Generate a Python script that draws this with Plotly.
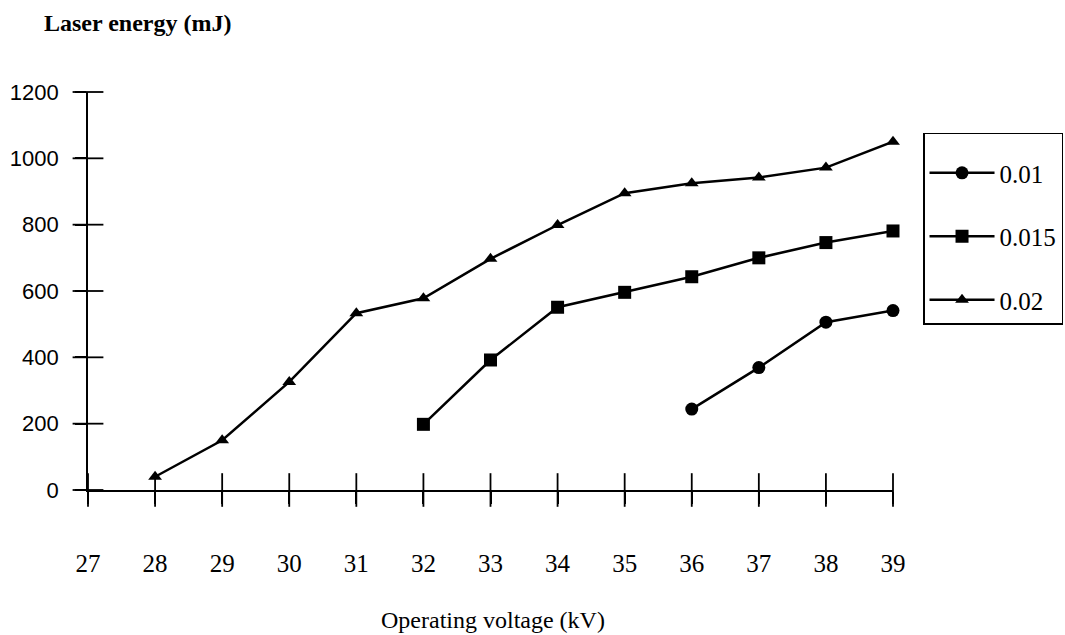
import plotly.graph_objects as go

x_vals = list(range(27, 40))
x_tick_labels = [str(v) for v in x_vals]
y_ticks = [0, 200, 400, 600, 800, 1000, 1200]

v_001 = [36, 37, 38, 39]
e_001 = [244, 369, 506, 541]

v_0015 = [32, 33, 34, 35, 36, 37, 38, 39]
e_0015 = [198, 392, 551, 596, 643, 700, 746, 781]

v_002 = [28, 29, 30, 31, 32, 33, 34, 35, 36, 37, 38, 39]
e_002 = [40, 150, 326, 533, 578, 697, 799, 895, 925, 942, 972, 1050]

serif = "Liberation Serif, Times New Roman, serif"
sans = "Liberation Sans, Arial, sans-serif"

fig = go.Figure()

# tick marks crossing the axes (drawn at the tick values on the axis lines)
fig.add_trace(go.Scatter(
    x=x_vals, y=[y_ticks[0]] * len(x_vals), mode="markers",
    marker=dict(symbol="line-ns", size=24, line=dict(color="black", width=1.8)),
    cliponaxis=False, showlegend=False, hoverinfo="skip"))
fig.add_trace(go.Scatter(
    x=[x_vals[0]] * len(y_ticks), y=y_ticks, mode="markers",
    marker=dict(symbol="line-ew", size=22, line=dict(color="black", width=1.8)),
    cliponaxis=False, showlegend=False, hoverinfo="skip"))

series = [
    ("0.01", v_001, e_001, "circle", 13),
    ("0.015", v_0015, e_0015, "square", 13),
    ("0.02", v_002, e_002, "triangle-up", 12),
]
for name, xs, ys, sym, sz in series:
    fig.add_trace(go.Scatter(
        x=xs, y=ys, name=name, mode="lines+markers",
        line=dict(color="black", width=2.5),
        marker=dict(symbol=sym, size=sz, color="black"),
        cliponaxis=False, legendgroup=name,
    ))

fig.update_layout(
    width=1065, height=635,
    paper_bgcolor="white", plot_bgcolor="white",
    margin=dict(l=88, r=172, t=92, b=145, autoexpand=False),
    showlegend=True,
    legend=dict(
        x=1.0373, y=0.897, xanchor="left", yanchor="top",
        bordercolor="black", borderwidth=1.5,
        font=dict(family=serif, size=25, color="black"),
        title=dict(text="&nbsp;", font=dict(family=serif, size=12)),
        traceorder="grouped", tracegroupgap=28,
        itemwidth=65,
    ),
    xaxis=dict(
        range=[27, 39], tickvals=x_vals, ticktext=x_tick_labels,
        showgrid=False, zeroline=False, showline=True, linecolor="black", linewidth=1.8,
        ticks="outside", ticklen=12, tickwidth=1.8, tickcolor="black",
        ticklabelstandoff=38,
        tickfont=dict(family=serif, size=25, color="black"),
        anchor="y",
    ),
    yaxis=dict(
        range=[0, 1200], tickvals=y_ticks,
        showgrid=False, zeroline=False, showline=True, linecolor="black", linewidth=1.8,
        ticks="outside", ticklen=11, tickwidth=1.8, tickcolor="black",
        ticklabelstandoff=12,
        tickfont=dict(family=sans, size=22, color="black"),
        anchor="x",
    ),
    annotations=[
        dict(text="<b>Laser energy (mJ)</b>", xref="paper", yref="paper",
             x=-0.0571, y=1.173, xanchor="left", yanchor="middle", showarrow=False,
             font=dict(family=serif, size=24, color="black")),
        dict(text="Operating voltage (kV)", xref="paper", yref="paper",
             x=0.5036, y=-0.3266, xanchor="center", yanchor="middle", showarrow=False,
             font=dict(family=serif, size=24, color="black")),
    ],
)

fig.write_html("out.html", config={"displayModeBar": False},
               post_script="document.body.style.margin='0';")
